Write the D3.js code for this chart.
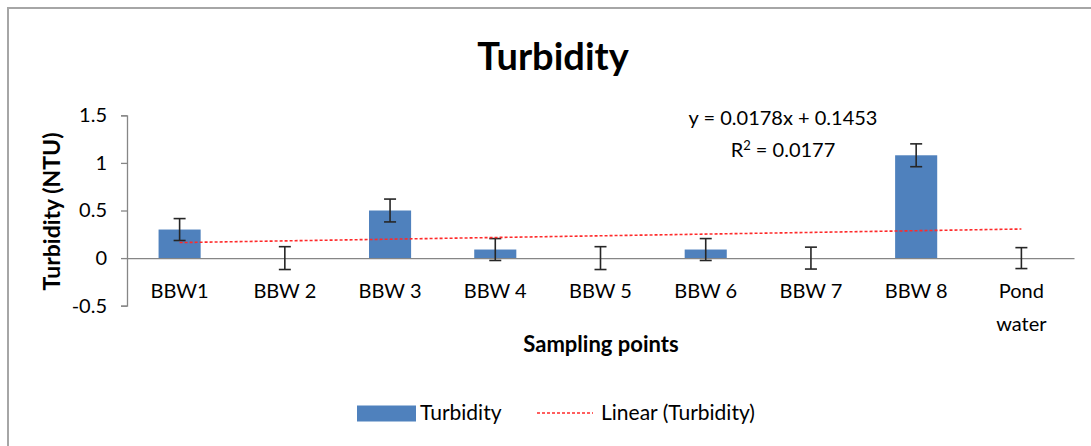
<!DOCTYPE html>
<html>
<head>
<meta charset="utf-8">
<script src="https://cdn.jsdelivr.net/npm/d3@7"></script>
<style>
  html, body { margin: 0; padding: 0; background: #fff; }
  svg { display: block; }
  text { font-family: Lato, "Open Sans", sans-serif; fill: #000; }
</style>
</head>
<body>
<svg id="chart" width="1091" height="446"></svg>
<script>
const categories = ["BBW1", "BBW 2", "BBW 3", "BBW 4", "BBW 5", "BBW 6", "BBW 7", "BBW 8", "Pond water"];
const turbidity = [0.3, 0, 0.5, 0.09, 0, 0.09, 0, 1.08, 0];
const errors = [0.115, 0.12, 0.12, 0.115, 0.12, 0.115, 0.115, 0.12, 0.11];
const yTicks = [-0.5, 0, 0.5, 1, 1.5];
const trendSlope = 0.0178;
const trendIntercept = 0.1453;
const equationText = "y = 0.0178x + 0.1453";
const r2Value = "0.0177";

const svg = d3.select("#chart");
const plotLeft = 127, plotRight = 1074, plotTop = 115.3, plotBottom = 305.7;

// chart border
svg.append("rect").attr("x", 8).attr("y", 8).attr("width", 1200).attr("height", 600)
  .attr("fill", "none").attr("stroke", "#a6a6a6").attr("stroke-width", 2);

const x = d3.scaleBand().domain(categories).range([plotLeft, plotRight]).paddingInner(0.6).paddingOuter(0.3);
const xc = d3.scaleBand().domain(categories).range([plotLeft, plotRight]);
const y = d3.scaleLinear().domain([-0.5, 1.5]).range([plotBottom, plotTop]);

// y axis
const yAxis = d3.axisLeft(y).tickValues(yTicks).tickSize(6).tickPadding(14)
  .tickFormat(d => String(d));
const gy = svg.append("g").attr("transform", `translate(${plotLeft},0)`).call(yAxis);
gy.select(".domain").attr("stroke", "#868686").attr("stroke-width", 1.3);
gy.selectAll(".tick line").attr("stroke", "#868686").attr("stroke-width", 1.3);
gy.selectAll(".tick text").style("font-size", "20px").style("font-family", "Lato, sans-serif").attr("fill", "#000");

// bars
svg.append("g").selectAll("rect").data(turbidity).join("rect")
  .attr("x", (d, i) => x(categories[i]))
  .attr("width", x.bandwidth())
  .attr("y", d => y(Math.max(0, d)))
  .attr("height", d => Math.abs(y(d) - y(0)))
  .attr("fill", "#4f81bd");

// zero line (x axis)
const xAxis = d3.axisBottom(xc).tickSize(0).tickFormat("");
const gx = svg.append("g").attr("transform", `translate(0,${y(0)})`).call(xAxis);
gx.select(".domain").attr("stroke", "#868686").attr("stroke-width", 1.3);

// category labels
const lab = svg.append("g");
categories.forEach((c, i) => {
  const cx = xc(c) + xc.bandwidth() / 2;
  const t = lab.append("text").attr("text-anchor", "middle").style("font-size", "20px");
  const parts = c === "Pond water" ? ["Pond", "water"] : [c];
  parts.forEach((p, k) => {
    t.append("tspan").attr("x", cx).attr("y", 298 + k * 33).text(p);
  });
});

// error bars
const eb = svg.append("g").attr("stroke", "#262626").attr("stroke-width", 1.6);
turbidity.forEach((d, i) => {
  const cx = xc(categories[i]) + xc.bandwidth() / 2;
  const e = errors[i];
  eb.append("line").attr("x1", cx).attr("x2", cx).attr("y1", y(d + e)).attr("y2", y(d - e));
  eb.append("line").attr("x1", cx - 6).attr("x2", cx + 6).attr("y1", y(d + e)).attr("y2", y(d + e));
  eb.append("line").attr("x1", cx - 6).attr("x2", cx + 6).attr("y1", y(d - e)).attr("y2", y(d - e));
});

// trend line
const idx = d3.scaleLinear().domain([1, categories.length])
  .range([xc(categories[0]) + xc.bandwidth() / 2, xc(categories[categories.length - 1]) + xc.bandwidth() / 2]);
const trendPts = [1, categories.length].map(k => [idx(k), y(trendSlope * k + trendIntercept)]);
svg.append("path").attr("d", d3.line()(trendPts))
  .attr("stroke", "#ff2a2a").attr("stroke-width", 1.6).attr("stroke-dasharray", "3,2").attr("fill", "none");

// equation
svg.append("text").attr("x", 783).attr("y", 125).attr("text-anchor", "middle").style("font-size", "20px").text(equationText);
const r2 = svg.append("text").attr("x", 783).attr("y", 157).attr("text-anchor", "middle").style("font-size", "20px");
r2.append("tspan").text("R");
r2.append("tspan").attr("dy", -7).style("font-size", "13px").text("2");
r2.append("tspan").attr("dy", 7).text(" = " + r2Value);

// title
svg.append("text").attr("x", 553).attr("y", 70).attr("text-anchor", "middle")
  .style("font-size", "38px").style("font-weight", "bold").text("Turbidity");

// axis titles
svg.append("text").attr("transform", `translate(60,211.5) rotate(-90)`).attr("text-anchor", "middle")
  .style("font-size", "23px").style("font-weight", "bold").text("Turbidity (NTU)");
svg.append("text").attr("x", 601).attr("y", 352).attr("text-anchor", "middle")
  .style("font-size", "22px").style("font-weight", "bold").text("Sampling points");

// legend
const lg = svg.append("g");
lg.append("rect").attr("x", 357).attr("y", 405.5).attr("width", 59).attr("height", 16).attr("fill", "#4f81bd");
lg.append("text").attr("x", 420).attr("y", 420).style("font-size", "21px").text("Turbidity");
lg.append("line").attr("x1", 537).attr("x2", 593).attr("y1", 413).attr("y2", 413)
  .attr("stroke", "#ff2a2a").attr("stroke-width", 1.4).attr("stroke-dasharray", "3,2");
lg.append("text").attr("x", 601).attr("y", 420).style("font-size", "21px").text("Linear (Turbidity)");
</script>
</body>
</html>
